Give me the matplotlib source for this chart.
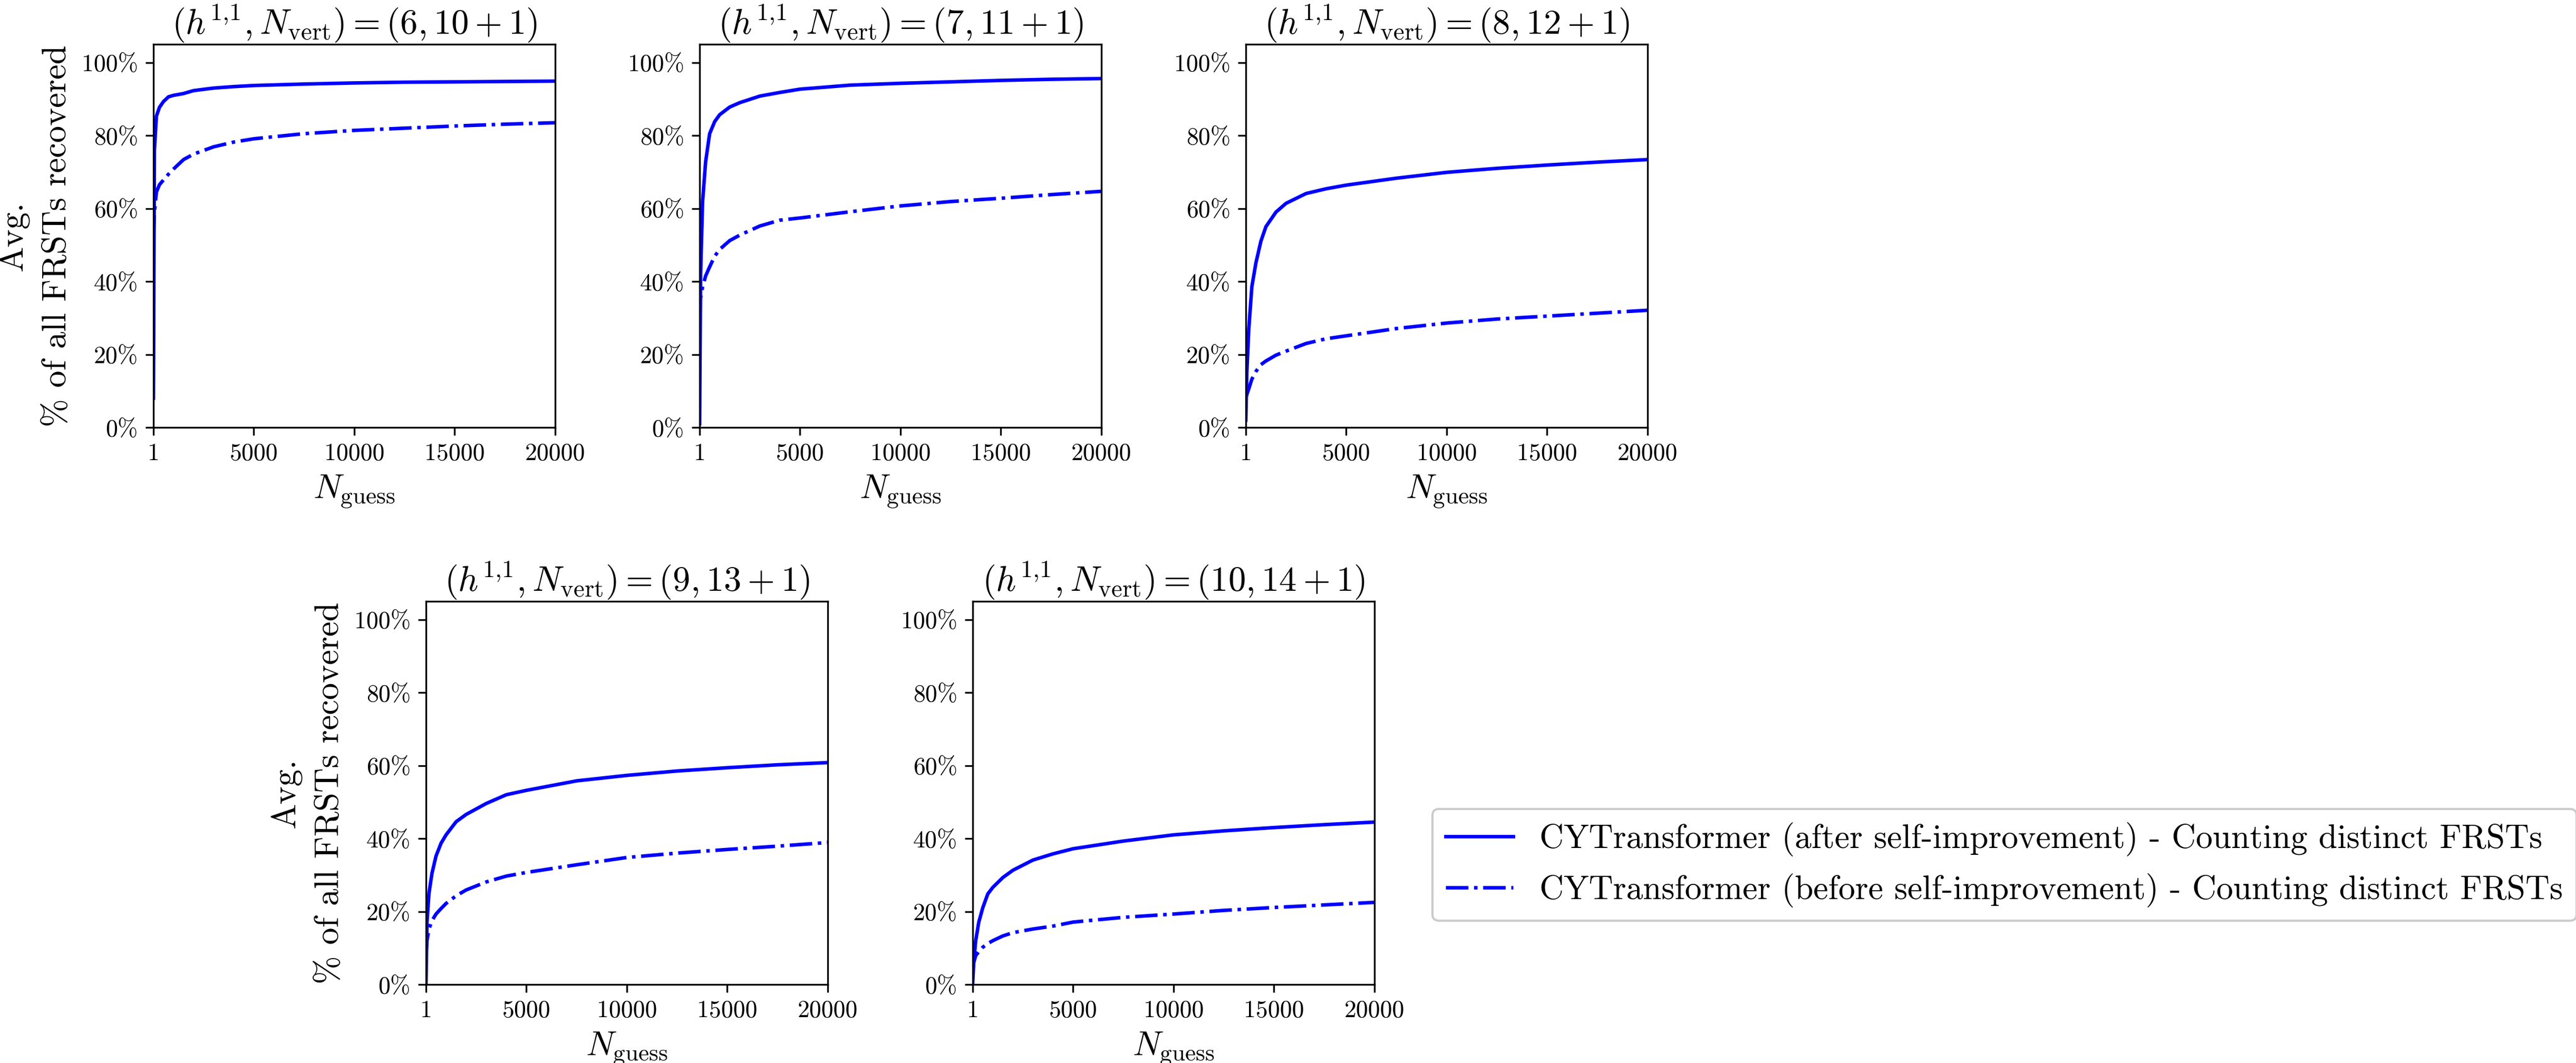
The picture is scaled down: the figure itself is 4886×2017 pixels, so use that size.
import matplotlib
matplotlib.use("Agg")
import matplotlib.pyplot as plt
from matplotlib.ticker import FuncFormatter

plt.rcParams["font.family"] = "serif"
plt.rcParams["font.serif"] = ["cmr10"]
plt.rcParams["mathtext.fontset"] = "cm"
plt.rcParams["axes.formatter.use_mathtext"] = True

# Number of guesses sampled
n_guess = [1, 50, 150, 300, 500, 750, 1000, 1500, 2000, 3000, 4000, 5000,
           7500, 10000, 12500, 15000, 17500, 20000]

# Configurations (h11, number of vertices)
h11_values = [6, 7, 8, 9, 10]
n_vert_values = [10, 11, 12, 13, 14]

# Average % of all FRSTs recovered, after self-improvement
after_h6 = [8, 76, 85.3, 87.7, 89.3, 90.6, 91.0, 91.5, 92.3, 93.0, 93.4, 93.7,
            94.1, 94.4, 94.6, 94.7, 94.8, 94.9]
after_h7 = [1, 42, 62, 72.8, 80.5, 83.8, 85.7, 87.8, 89.0, 90.8, 91.8, 92.7,
            93.8, 94.3, 94.7, 95.1, 95.4, 95.6]
after_h8 = [2, 15, 27, 38.5, 45, 51, 55, 59, 61.4, 64.1, 65.4, 66.4,
            68.3, 69.9, 71.0, 71.9, 72.7, 73.4]
after_h9 = [0.5, 17, 25, 30.5, 35.2, 38.7, 41.0, 44.6, 46.6, 49.6, 52.0, 53.2,
            55.8, 57.3, 58.5, 59.4, 60.2, 60.8]
after_h10 = [0.5, 6, 12, 17, 21, 24.8, 26.6, 29.3, 31.3, 34.1, 35.8, 37.2,
             39.3, 41.0, 42.1, 43.0, 43.8, 44.5]

# Average % of all FRSTs recovered, before self-improvement
before_h6 = [52, 59, 64.5, 66.5, 67.8, 69.4, 70.8, 73.4, 74.9, 76.9, 78.2, 79.1,
             80.5, 81.4, 82.0, 82.6, 83.1, 83.5]
before_h7 = [30, 35.5, 38.5, 41.5, 44, 46.9, 48.8, 51.2, 52.7, 55.2, 56.8, 57.4,
             59.1, 60.7, 61.9, 62.8, 63.8, 64.7]
before_h8 = [8, 9, 10.6, 13.2, 15.3, 17.2, 18.2, 19.8, 20.9, 23.0, 24.3, 25.1,
             27.1, 28.6, 29.7, 30.5, 31.3, 32.1]
before_h9 = [8, 12, 15.2, 17.5, 19.3, 20.8, 22.2, 24.3, 25.9, 28.1, 29.7, 30.7,
             32.8, 34.8, 36.0, 37.0, 37.9, 38.9]
before_h10 = [3, 6, 7.9, 9.0, 10.2, 11.2, 12.0, 13.3, 14.2, 15.2, 16.0, 17.1,
              18.4, 19.3, 20.3, 21.1, 21.8, 22.5]

after_all = [after_h6, after_h7, after_h8, after_h9, after_h10]
before_all = [before_h6, before_h7, before_h8, before_h9, before_h10]

x_ticks = [1, 5000, 10000, 15000, 20000]
y_ticks = [0, 20, 40, 60, 80, 100]

label_after = "CYTransformer (after self-improvement) - Counting distinct FRSTs"
label_before = "CYTransformer (before self-improvement) - Counting distinct FRSTs"

W, H = 4886, 2017
fig = plt.figure(figsize=(W / 300, H / 300), dpi=300)

# axes boxes in pixels: (left, top); all panels share one size
ax_w, ax_h = 762, 727
boxes = [(291, 84), (1327, 84), (2363, 84), (808, 1141), (1845, 1141)]

axes = []
for i, (lx, ty) in enumerate(boxes):
    ax = fig.add_axes([lx / W, 1 - (ty + ax_h) / H, ax_w / W, ax_h / H])
    ax.plot(n_guess, after_all[i], color="blue", lw=1.6, ls="-", label=label_after)
    ax.plot(n_guess, before_all[i], color="blue", lw=1.6, ls="-.", label=label_before)
    ax.set_xlim(1, 20000)
    ax.set_ylim(0, 105)
    ax.set_xticks(x_ticks)
    ax.set_xticklabels([str(t) for t in x_ticks])
    ax.set_yticks(y_ticks)
    ax.yaxis.set_major_formatter(FuncFormatter(lambda v, p: f"{int(v)}%"))
    ax.tick_params(labelsize=11)
    ax.set_title(r"$(h^{1{,}1}, N_{\mathrm{vert}}) = (%d, %d+1)$"
                 % (h11_values[i], n_vert_values[i]), fontsize=16, pad=2)
    ax.set_xlabel(r"$N_{\mathrm{guess}}$", fontsize=15.5)
    if i in (0, 3):
        ax.set_ylabel("Avg.\n% of all FRSTs recovered", fontsize=15.5,
                      linespacing=1.55)
    axes.append(ax)

handles, labels = axes[0].get_legend_handles_labels()
fig.legend(handles, labels, loc="center left",
           bbox_to_anchor=(2717 / W, 1 - 1641 / H), borderaxespad=0,
           fontsize=15.25, framealpha=1)

fig.savefig("out.png", dpi=300)
